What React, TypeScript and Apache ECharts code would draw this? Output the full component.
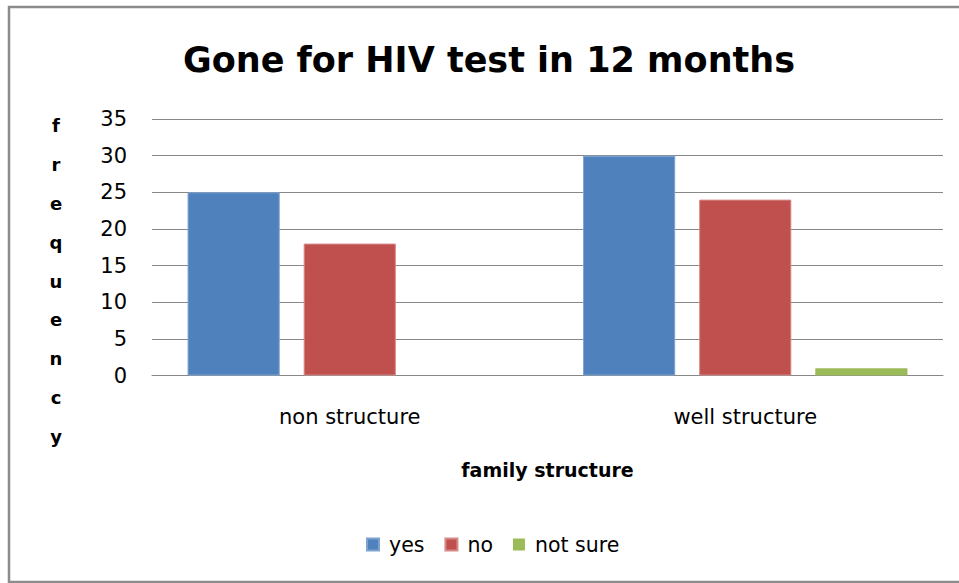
import React, { useEffect, useRef } from "react";
import * as echarts from "echarts";

const categories = ["non structure", "well structure"];
const yesValues = [25, 30];
const noValues = [18, 24];
const notSureValues = [0, 1];
const seriesNames = ["yes", "no", "not sure"];
const titleText = "Gone for HIV test in 12 months";
const xAxisTitle = "family structure";
const yAxisTitle = "frequency";

const FONT = "'DejaVu Sans', 'Noto Sans', sans-serif";

export default function App() {
  const ref = useRef<HTMLDivElement>(null);
  useEffect(() => {
    if (!ref.current) return;
    const chart = echarts.init(ref.current, undefined, { renderer: "svg" });
    chart.setOption({
      animation: false,
      backgroundColor: "#ffffff",
      textStyle: { fontFamily: FONT, color: "#000" },
      title: {
        text: titleText,
        left: 484,
        textAlign: "center",
        top: 37,
        textStyle: { fontFamily: FONT, fontSize: 35, fontWeight: "bold", color: "#000" },
      },
      graphic: [
        {
          type: "rect",
          shape: { x: 9, y: 7, width: 1000, height: 575 },
          style: { fill: "none", stroke: "#8c8c8c", lineWidth: 2.5 },
          silent: true,
        },
        {
          type: "text",
          x: 56,
          y: 281,
          style: {
            text: yAxisTitle.split("").join("\n"),
            fontFamily: FONT,
            fontSize: 18,
            fontWeight: "bold",
            lineHeight: 38.9,
            fill: "#000",
            align: "center",
            verticalAlign: "middle",
          },
        },
      ],
      legend: {
        data: seriesNames,
        left: 366,
        top: 534,
        padding: 0,
        itemWidth: 12,
        itemHeight: 12,
        itemGap: 20,
        icon: "rect",
        textStyle: { fontFamily: FONT, fontSize: 20.5, color: "#000", padding: [0, 0, 0, 5] },
      },
      grid: { left: 152, right: 16, top: 119, bottom: 207.5, containLabel: false },
      xAxis: {
        type: "category",
        data: categories,
        axisLine: { lineStyle: { color: "#888", width: 1 } },
        axisTick: { show: false },
        axisLabel: { fontFamily: FONT, fontSize: 21, color: "#000", margin: 31 },
        name: xAxisTitle,
        nameLocation: "middle",
        nameGap: 85,
        nameTextStyle: { fontFamily: FONT, fontSize: 19, fontWeight: "bold", color: "#000" },
      },
      yAxis: {
        type: "value",
        min: 0,
        max: 35,
        interval: 5,
        axisLine: { show: false },
        axisTick: { show: false },
        splitLine: { lineStyle: { color: "#888", width: 1 } },
        axisLabel: { fontFamily: FONT, fontSize: 21, color: "#000", margin: 25 },
      },
      series: [
        {
          name: seriesNames[0],
          type: "bar",
          data: yesValues,
          barWidth: "23.3%",
          barGap: "26%",
          itemStyle: { color: "#4F81BD", borderColor: "#7fa3d0", borderWidth: 1 },
        },
        {
          name: seriesNames[1],
          type: "bar",
          data: noValues,
          barWidth: "23.3%",
          barGap: "26%",
          itemStyle: { color: "#C0504D", borderColor: "#d58a88", borderWidth: 1 },
        },
        {
          name: seriesNames[2],
          type: "bar",
          data: notSureValues,
          barWidth: "23.3%",
          barGap: "26%",
          itemStyle: { color: "#9BBB59" },
        },
      ],
    });
    return () => chart.dispose();
  }, []);
  return (
    <div
      ref={ref}
      style={{ position: "fixed", left: 0, top: 0, width: 959, height: 583 }}
    />
  );
}
